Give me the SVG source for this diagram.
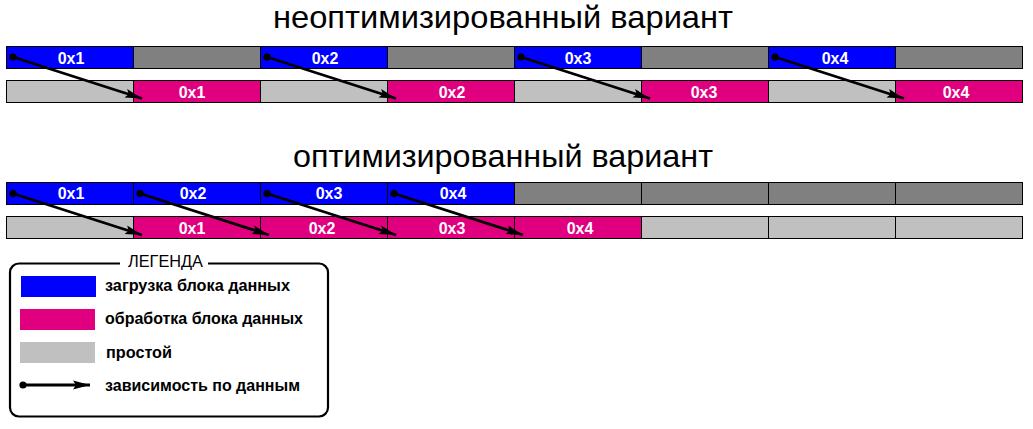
<svg xmlns="http://www.w3.org/2000/svg" width="1033" height="429" viewBox="0 0 1033 429">
<style>
text{font-family:"Liberation Sans",Arial,sans-serif}
.title{font-size:32px;fill:#000}
.lbl{font-size:16px;font-weight:bold;fill:#fff;text-anchor:middle}
.leg{font-size:16px;font-weight:bold;fill:#000}
.cell{stroke:#000;stroke-width:1}
.load{fill:#0000FF}
.proc{fill:#E0007F}
.idle{fill:#C0C0C0}
.dark{fill:#808080}
.dep{stroke:#000;stroke-width:2.8;fill:none;marker-start:url(#dot);marker-end:url(#arr)}
</style>
<defs>
<marker id="arr" markerUnits="userSpaceOnUse" markerWidth="18" markerHeight="12" viewBox="0 0 18 12" refX="17" refY="6" orient="auto">
<path d="M0,1.5 L17,6 L0,10.5 L3,6 z" fill="#000"/>
</marker>
<marker id="dot" markerUnits="userSpaceOnUse" markerWidth="8" markerHeight="8" viewBox="0 0 8 8" refX="4" refY="4" orient="auto">
<circle cx="4" cy="4" r="3.6" fill="#000"/>
</marker>
</defs>
<rect width="1033" height="429" fill="#fff"/>

<g id="title1"><text class="title" x="273" y="28" textLength="460" lengthAdjust="spacingAndGlyphs">неоптимизированный вариант</text></g>

<g id="s1-row1">
<g id="s1-load-1"><rect class="cell load" x="6.5" y="46.5" width="127" height="22"/><text class="lbl" x="71" y="63.5">0x1</text></g>
<g id="s1-wait-1"><rect class="cell dark" x="133.5" y="46.5" width="127" height="22"/></g>
<g id="s1-load-2"><rect class="cell load" x="260.5" y="46.5" width="127" height="22"/><text class="lbl" x="325" y="63.5">0x2</text></g>
<g id="s1-wait-2"><rect class="cell dark" x="387.5" y="46.5" width="127" height="22"/></g>
<g id="s1-load-3"><rect class="cell load" x="514.5" y="46.5" width="127" height="22"/><text class="lbl" x="578" y="63.5">0x3</text></g>
<g id="s1-wait-3"><rect class="cell dark" x="641.5" y="46.5" width="127" height="22"/></g>
<g id="s1-load-4"><rect class="cell load" x="768.5" y="46.5" width="127" height="22"/><text class="lbl" x="835" y="63.5">0x4</text></g>
<g id="s1-wait-4"><rect class="cell dark" x="895.5" y="46.5" width="127" height="22"/></g>
</g>
<g id="s1-row2">
<g id="s1-idle-1"><rect class="cell idle" x="6.5" y="80.5" width="127" height="22"/></g>
<g id="s1-proc-1"><rect class="cell proc" x="133.5" y="80.5" width="127" height="22"/><text class="lbl" x="192" y="97.5">0x1</text></g>
<g id="s1-idle-2"><rect class="cell idle" x="260.5" y="80.5" width="127" height="22"/></g>
<g id="s1-proc-2"><rect class="cell proc" x="387.5" y="80.5" width="127" height="22"/><text class="lbl" x="452" y="97.5">0x2</text></g>
<g id="s1-idle-3"><rect class="cell idle" x="514.5" y="80.5" width="127" height="22"/></g>
<g id="s1-proc-3"><rect class="cell proc" x="641.5" y="80.5" width="127" height="22"/><text class="lbl" x="704" y="97.5">0x3</text></g>
<g id="s1-idle-4"><rect class="cell idle" x="768.5" y="80.5" width="127" height="22"/></g>
<g id="s1-proc-4"><rect class="cell proc" x="895.5" y="80.5" width="127" height="22"/><text class="lbl" x="956" y="97.5">0x4</text></g>
</g>

<g id="title2"><text class="title" x="293" y="167" textLength="420" lengthAdjust="spacingAndGlyphs">оптимизированный вариант</text></g>

<g id="s2-row1">
<g id="s2-load-1"><rect class="cell load" x="6.5" y="182.5" width="127" height="22"/><text class="lbl" x="71" y="199">0x1</text></g>
<g id="s2-load-2"><rect class="cell load" x="133.5" y="182.5" width="127" height="22"/><text class="lbl" x="193" y="199">0x2</text></g>
<g id="s2-load-3"><rect class="cell load" x="260.5" y="182.5" width="127" height="22"/><text class="lbl" x="329" y="199">0x3</text></g>
<g id="s2-load-4"><rect class="cell load" x="387.5" y="182.5" width="127" height="22"/><text class="lbl" x="453" y="199">0x4</text></g>
<g id="s2-wait-1"><rect class="cell dark" x="514.5" y="182.5" width="127" height="22"/></g>
<g id="s2-wait-2"><rect class="cell dark" x="641.5" y="182.5" width="127" height="22"/></g>
<g id="s2-wait-3"><rect class="cell dark" x="768.5" y="182.5" width="127" height="22"/></g>
<g id="s2-wait-4"><rect class="cell dark" x="895.5" y="182.5" width="127" height="22"/></g>
</g>
<g id="s2-row2">
<g id="s2-idle-1"><rect class="cell idle" x="6.5" y="216.5" width="127" height="22"/></g>
<g id="s2-proc-1"><rect class="cell proc" x="133.5" y="216.5" width="127" height="22"/><text class="lbl" x="192" y="233.5">0x1</text></g>
<g id="s2-proc-2"><rect class="cell proc" x="260.5" y="216.5" width="127" height="22"/><text class="lbl" x="322" y="233.5">0x2</text></g>
<g id="s2-proc-3"><rect class="cell proc" x="387.5" y="216.5" width="127" height="22"/><text class="lbl" x="452" y="233.5">0x3</text></g>
<g id="s2-proc-4"><rect class="cell proc" x="514.5" y="216.5" width="127" height="22"/><text class="lbl" x="580" y="233.5">0x4</text></g>
<g id="s2-idle-2"><rect class="cell idle" x="641.5" y="216.5" width="127" height="22"/></g>
<g id="s2-idle-3"><rect class="cell idle" x="768.5" y="216.5" width="127" height="22"/></g>
<g id="s2-idle-4"><rect class="cell idle" x="895.5" y="216.5" width="127" height="22"/></g>
</g>

<g id="connectors">
<line class="dep" x1="13" y1="57" x2="142" y2="98.5"/>
<line class="dep" x1="267" y1="57" x2="396" y2="98.5"/>
<line class="dep" x1="521" y1="57" x2="650" y2="98.5"/>
<line class="dep" x1="775" y1="57" x2="904" y2="98.5"/>
<line class="dep" x1="13" y1="193.5" x2="142" y2="235"/>
<line class="dep" x1="140" y1="193.5" x2="269" y2="235"/>
<line class="dep" x1="267" y1="193.5" x2="396" y2="235"/>
<line class="dep" x1="394" y1="193.5" x2="523" y2="235"/>
</g>

<g id="legend">
<rect x="10" y="263.5" width="318" height="153" rx="9" fill="#fff" stroke="#000" stroke-width="2.2"/>
<rect x="120" y="258" width="88" height="10" fill="#fff"/>
<text x="128" y="267" font-size="16" textLength="75" lengthAdjust="spacingAndGlyphs">ЛЕГЕНДА</text>
<rect x="21" y="276" width="75" height="21" fill="#0000FF"/>
<text class="leg" x="105" y="290.5" textLength="185" lengthAdjust="spacingAndGlyphs">загрузка блока данных</text>
<rect x="20" y="309" width="75" height="21" fill="#E0007F"/>
<text class="leg" x="105" y="324" textLength="198" lengthAdjust="spacingAndGlyphs">обработка блока данных</text>
<rect x="20" y="342" width="75" height="21" fill="#C0C0C0"/>
<text class="leg" x="106" y="358" textLength="66" lengthAdjust="spacingAndGlyphs">простой</text>
<line class="dep" x1="23" y1="385" x2="90" y2="385"/>
<text class="leg" x="105" y="391" textLength="195" lengthAdjust="spacingAndGlyphs">зависимость по данным</text>
</g>
</svg>
